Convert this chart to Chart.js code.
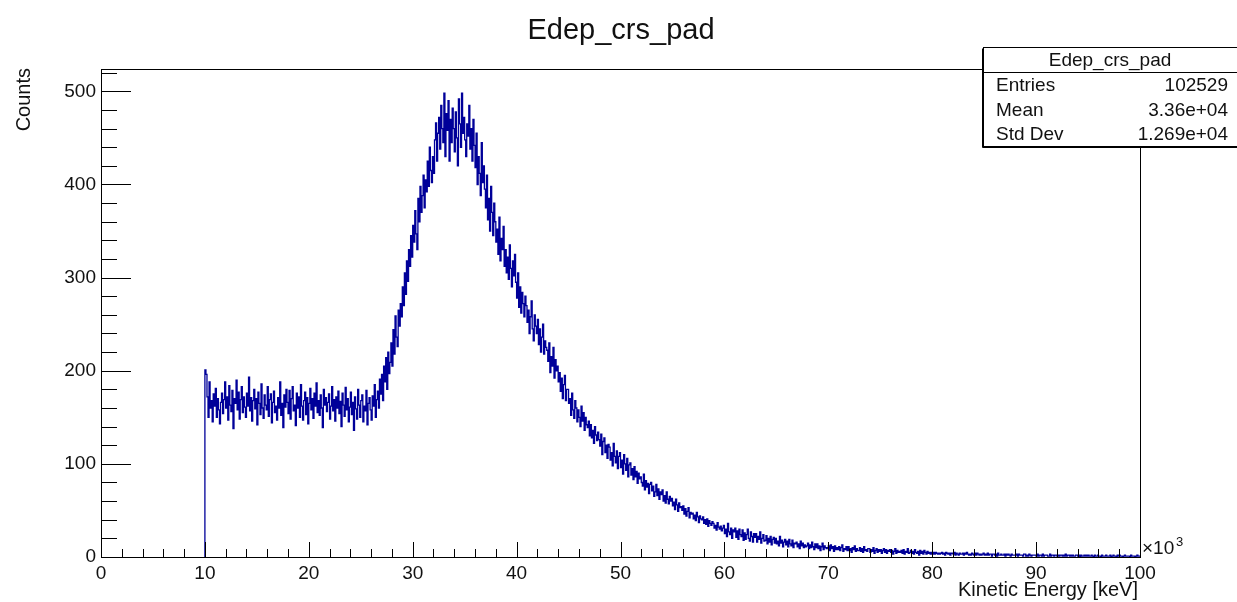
<!DOCTYPE html>
<html>
<head>
<meta charset="utf-8">
<script src="https://cdn.jsdelivr.net/npm/chart.js@4.4.1/dist/chart.umd.min.js"></script>
<style>
  body { margin: 0; background: #fff; }
  #wrap { width: 1237px; height: 602px; }
</style>
</head>
<body>
<div id="wrap"><canvas id="hist" width="1237" height="602"></canvas></div>
<script>
// Histogram Edep_crs_pad: 100 keV bins, first filled bin starts at 10 (x10^3 keV)
const histTitle = "Edep_crs_pad";
const xTitle = "Kinetic Energy [keV]";
const yTitle = "Counts";
const firstBinLow = 10;
const binWidth = 0.1;
const xTickLabels = [0, 10, 20, 30, 40, 50, 60, 70, 80, 90, 100];
const yTickLabels = [0, 100, 200, 300, 400, 500];
const statsLabels = ["Entries", "Mean", "Std Dev"];
const statsValues = ["102529", "3.36e+04", "1.269e+04"];

// one row per 1000 keV
const counts = [
  178,201,196,172,150,188,160,168,145,175,
  162,181,150,170,158,143,166,176,154,169,
  188,160,172,147,184,163,156,179,138,170,
  165,190,158,177,148,169,183,155,172,161,
  150,176,162,193,157,171,146,168,180,159,
  170,142,177,165,153,186,160,149,174,163,
  158,183,151,169,175,144,166,178,155,162,
  147,171,160,188,152,165,139,174,161,180,
  166,154,179,148,170,183,157,163,141,176,
  160,172,150,185,162,147,168,177,153,171,
  143,165,181,158,170,149,176,162,187,155,
  168,152,174,160,139,180,163,171,156,166,
  175,148,162,183,157,169,146,172,160,178,
  154,167,140,176,163,151,182,158,170,145,
  161,177,153,166,136,172,159,148,180,163,
  150,168,174,145,162,157,179,142,165,171,
  158,147,173,162,185,150,169,178,160,191,
  175,196,168,205,188,214,180,220,197,209,
  230,205,244,218,259,236,226,265,248,272,
  258,290,270,305,282,318,296,330,312,345,
  322,356,338,372,347,330,385,360,398,370,
  388,410,375,405,392,425,398,440,415,402,
  430,412,448,466,425,455,472,438,485,460,
  445,498,430,476,458,490,425,470,445,482,
  460,435,478,450,420,492,465,440,498,455,
  472,448,430,465,452,485,438,460,425,470,
  442,418,455,400,430,412,388,445,402,420,
  395,375,410,362,385,350,398,370,345,380,
  360,338,352,325,365,318,342,330,355,312,
  330,305,322,298,335,310,290,318,302,325,
  295,278,305,268,290,262,284,272,258,280,
  270,252,265,240,258,275,245,232,260,248,
  240,255,228,245,220,236,250,218,232,225,
  222,210,230,198,215,205,225,192,212,200,
  205,188,198,178,192,170,185,195,168,180,
  180,165,170,152,176,158,149,168,160,145,
  158,150,140,162,146,155,136,150,142,139,
  146,130,142,128,136,122,140,131,125,134,
  126,119,132,110,124,128,112,120,106,121,
  118,104,112,98,122,108,101,114,95,108,
  112,96,104,89,110,100,93,106,86,99,
  101,88,95,83,97,86,92,79,90,84,
  86,80,76,89,72,82,75,79,68,78,
  80,71,76,65,70,78,66,73,62,70,
  67,72,60,66,58,70,62,57,65,60,
  63,55,59,51,62,56,49,58,53,54,
  50,55,46,52,44,49,53,42,48,46,
  47,41,45,39,48,43,37,44,41,40,
  43,36,40,35,41,33,39,36,34,38,
  36,31,34,29,37,32,30,33,28,31,
  34,25,30,22,36,27,24,31,20,29,
  27,31,21,28,19,30,24,22,29,18,
  26,19,24,30,20,17,27,22,16,25,
  21,25,16,22,19,27,15,20,24,17,
  18,23,14,20,16,22,13,19,21,15,
  20,14,17,12,22,15,18,11,16,19,
  13,17,11,19,14,12,18,10,15,14,
  16,11,14,9,17,12,15,10,13,11,
  12,15,9,13,10,16,11,8,14,10,
  14,9,12,7,11,15,8,12,10,9,
  10,12,7,13,9,11,6,12,8,10,
  8,11,7,10,13,6,9,8,11,7,
  11,7,9,5,10,8,12,6,9,7,
  7,10,6,9,5,11,7,8,6,9,
  9,5,8,6,10,4,7,9,5,8,
  6,8,4,7,9,5,8,4,7,6,
  8,5,7,3,6,9,4,7,5,6,
  5,7,4,8,3,6,5,9,4,5,
  7,4,6,3,8,5,4,6,2,7,
  4,6,3,7,5,3,6,4,5,3,
  5,3,5,3,5,4,3,4,3,4,
  5,3,4,2,5,4,3,4,2,4,
  4,3,5,2,4,3,2,4,3,3,
  4,2,4,3,5,3,2,3,2,4,
  3,2,4,2,4,3,2,3,2,3,
  4,2,3,2,4,2,3,3,1,3,
  3,2,3,1,4,2,2,3,2,2,
  3,1,3,2,3,2,1,3,2,2,
  2,2,3,1,3,2,2,2,1,3,
  3,1,2,1,3,2,1,2,2,2,
  2,1,3,1,2,2,1,3,1,2,
  2,2,1,1,3,1,2,2,1,2,
  2,1,2,1,2,2,1,2,1,3,
  1,2,2,1,2,1,2,1,1,2,
  2,1,2,0,2,1,1,2,1,2,
  1,2,1,1,2,1,0,2,1,1,
  2,1,1,0,2,1,1,1,2,1,
  1,1,2,0,1,2,1,1,0,2,
  1,2,1,1,0,1,2,1,1,1,
  1,0,2,1,1,1,0,1,2,1
];

const fontFamily = '"Liberation Sans", Arial, Helvetica, sans-serif';
const textColor = "#111";

// step outline: left edge of each bin, plus closing point at the upper edge
const points = [{ x: firstBinLow, y: 0 }];
counts.forEach((c, i) => points.push({ x: firstBinLow + i * binWidth, y: c }));
points.push({ x: firstBinLow + counts.length * binWidth, y: counts[counts.length - 1] });

const rootDecor = {
  id: "rootDecor",
  afterDraw(chart) {
    const { ctx, chartArea: a } = chart;
    const xs = chart.scales.x, ys = chart.scales.y;
    ctx.save();
    ctx.strokeStyle = "#000";
    ctx.lineWidth = 1;

    // frame
    ctx.strokeRect(Math.round(a.left) + 0.5, Math.round(a.top) + 0.5,
      Math.round(a.right - a.left), Math.round(a.bottom - a.top));

    // x ticks, drawn inward
    ctx.beginPath();
    for (let v = 0; v <= 100; v += 2) {
      const px = Math.round(xs.getPixelForValue(v)) + 0.5;
      const len = v % 10 === 0 ? 15 : 8;
      ctx.moveTo(px, a.bottom);
      ctx.lineTo(px, a.bottom - len);
    }
    // y ticks
    for (let v = 0; v <= ys.max; v += 20) {
      const py = Math.round(ys.getPixelForValue(v)) + 0.5;
      const len = v % 100 === 0 ? 30 : 16;
      ctx.moveTo(a.left, py);
      ctx.lineTo(a.left + len, py);
    }
    ctx.stroke();

    ctx.fillStyle = textColor;
    // main title
    ctx.font = "29px " + fontFamily;
    ctx.textAlign = "center";
    ctx.textBaseline = "middle";
    ctx.fillText(histTitle, 621, 31);

    // axis titles
    ctx.font = "20px " + fontFamily;
    ctx.textAlign = "right";
    ctx.fillText(xTitle, a.right - 2, 590);
    ctx.save();
    ctx.translate(24, a.top - 1);
    ctx.rotate(-Math.PI / 2);
    ctx.textAlign = "right";
    ctx.fillText(yTitle, 0, 0);
    ctx.restore();

    // x10^3 exponent
    ctx.textAlign = "left";
    ctx.font = "19px " + fontFamily;
    ctx.fillText("\u00d710", a.right + 2, 549);
    ctx.font = "13px " + fontFamily;
    ctx.fillText("3", a.right + 36, 542);

    // stats box
    const bx = 983.5, by = 47.5, bw = 260, bh = 99;
    ctx.fillStyle = "#fff";
    ctx.fillRect(bx, by, bw, bh);
    ctx.strokeStyle = "#000";
    ctx.lineWidth = 1;
    ctx.strokeRect(bx, by, bw, bh);
    ctx.beginPath();
    ctx.moveTo(bx, by + 25);
    ctx.lineTo(bx + bw, by + 25);
    ctx.moveTo(bx - 1, by + 1);
    ctx.lineTo(bx - 1, by + bh + 1);
    ctx.lineTo(bx + bw, by + bh + 1);
    ctx.stroke();

    ctx.fillStyle = textColor;
    ctx.font = "19px " + fontFamily;
    ctx.textAlign = "center";
    ctx.fillText(histTitle, 1110, 61);
    statsLabels.forEach((lab, i) => {
      const ty = 86 + i * 24.5;
      ctx.textAlign = "left";
      ctx.fillText(lab, 996, ty);
      ctx.textAlign = "right";
      ctx.fillText(statsValues[i], 1228, ty);
    });
    ctx.restore();
  }
};

new Chart(document.getElementById("hist").getContext("2d"), {
  type: "line",
  data: {
    datasets: [{
      label: histTitle,
      data: points,
      stepped: "after",
      borderColor: "#000099",
      borderWidth: 1.3,
      pointRadius: 0,
      fill: false,
      tension: 0
    }]
  },
  options: {
    responsive: false,
    animation: false,
    parsing: false,
    normalized: true,
    layout: { padding: { top: 69, right: 97, left: 0, bottom: 0 } },
    plugins: {
      legend: { display: false },
      title: { display: false },
      tooltip: { enabled: false }
    },
    scales: {
      x: {
        type: "linear",
        min: 0,
        max: 100,
        afterFit: (s) => { s.height = 45; },
        afterBuildTicks: (s) => { s.ticks = xTickLabels.map(v => ({ value: v })); },
        grid: { display: false, drawTicks: false },
        border: { display: false },
        ticks: {
          autoSkip: false,
          maxRotation: 0,
          padding: 5,
          color: textColor,
          font: { family: fontFamily, size: 19 }
        }
      },
      y: {
        type: "linear",
        min: 0,
        max: 524,
        afterFit: (s) => { s.width = 101; },
        afterBuildTicks: (s) => { s.ticks = yTickLabels.map(v => ({ value: v })); },
        grid: { display: false, drawTicks: false },
        border: { display: false },
        ticks: {
          padding: 5,
          color: textColor,
          font: { family: fontFamily, size: 19 }
        }
      }
    }
  },
  plugins: [rootDecor]
});
</script>
</body>
</html>
